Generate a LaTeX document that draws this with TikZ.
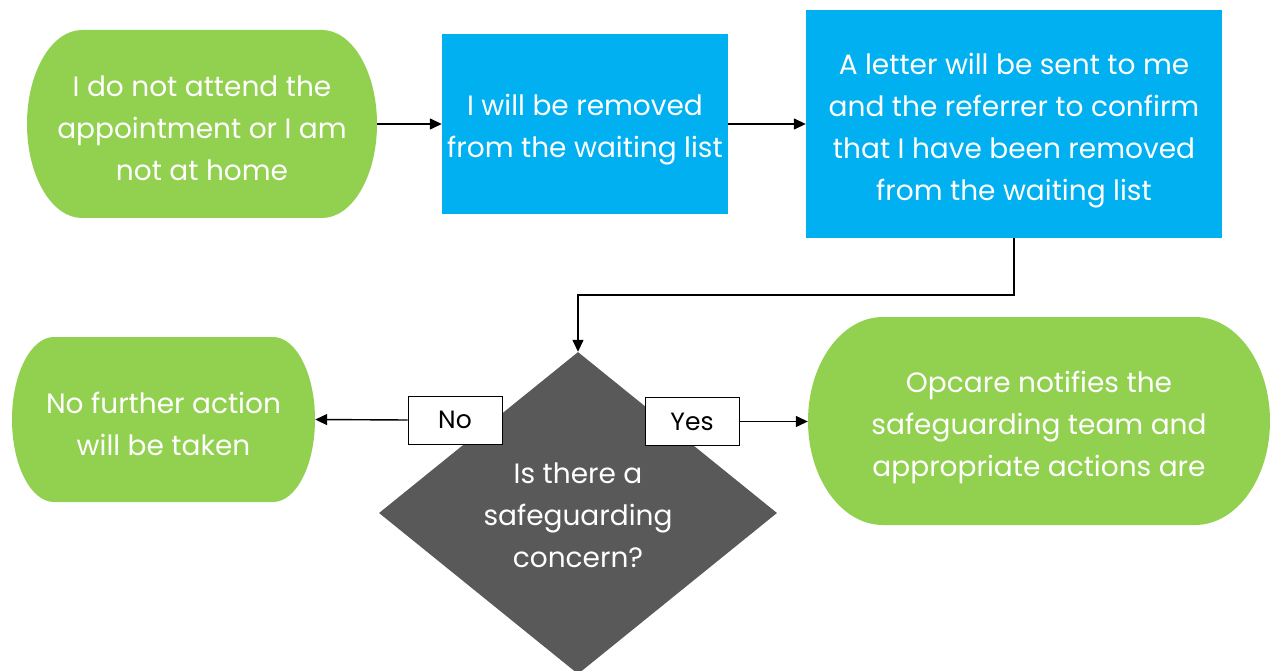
\documentclass[tikz,border=0pt]{standalone}
\usepackage{fontspec}
\setmainfont{Poppins}
\usetikzlibrary{shapes.geometric,arrows.meta}
\definecolor{tgreen}{HTML}{92D050}
\definecolor{tblue}{HTML}{00B0F0}
\definecolor{tgrey}{HTML}{595959}
\tikzset{
  txt/.style={text=white,align=center,font=\fontsize{28}{42}\selectfont,inner sep=0pt},
  bluebox/.style={fill=tblue,draw=none,inner sep=0pt},
  diabox/.style={shape=diamond,fill=tgrey,draw=none,inner sep=0pt,minimum width=398pt,minimum height=322pt},
  lab/.style={draw=black,fill=white,line width=1pt,font=\fontsize{25}{28}\selectfont,inner sep=0pt,minimum width=94pt,minimum height=48pt},
  arr/.style={line width=1.4pt,-{Triangle[length=12pt,width=11pt]}}
}
% name, cx, cy, w, h, rx, ry
\newcommand\termshape[7]{%
  \fill[tgreen] ({#2-#4/2+#6},{#3-#5/2}) -- ({#2+#4/2-#6},{#3-#5/2})
    arc[start angle=90,end angle=-90,x radius=#6pt,y radius=#7pt]
    -- ({#2-#4/2+#6},{#3+#5/2})
    arc[start angle=270,end angle=90,x radius=#6pt,y radius=#7pt] -- cycle;
  \node[inner sep=0pt,minimum width=#4pt,minimum height=#5pt] (#1) at (#2,#3) {};}
\begin{document}
\begin{tikzpicture}[x=1pt,y=-1pt]
\useasboundingbox (0,0) rectangle (1275,671);
\fill[white] (0,0) rectangle (1275,671);
\termshape{start}{202}{124}{350}{188}{55}{94}
\node[txt] (startt) at ([yshift=-4pt]start.center) {I do not attend the\\appointment or I am\\not at home};
\node[bluebox,minimum width=286pt,minimum height=180pt] (rem) at (585,124) {};
\node[txt] (remt) at ([yshift=-6pt]rem.center) {I will be removed\\from the waiting list};
\node[bluebox,minimum width=416pt,minimum height=228pt] (let) at (1014,124) {};
\node[txt] (lett) at ([yshift=-7pt]let.center) {A letter will be sent to me\\and the referrer to confirm\\that I have been removed\\from the waiting list};
\node[diabox] (dia) at (578,513) {};
\node[txt] (diat) at (578,515) {Is there a\\safeguarding\\concern?};
\termshape{nofa}{163.5}{419.5}{303}{165}{42}{82.5}
\node[txt] (nofat) at ([yshift=-4pt]nofa.center) {No further action\\will be taken};
\termshape{opc}{1039}{421}{462}{208}{75}{104}
\node[txt] (opct) at ([yshift=-6pt]opc.center) {Opcare notifies the\\safeguarding team and\\appropriate actions are};
\node[lab] (no) at (455,420) {No};
\node[lab] (yes) at (692,421.5) {Yes};
\coordinate (bend) at (1014,295);
\draw[arr] (start.east) -- (rem.west);
\draw[arr] (rem.east) -- (let.west);
\draw[arr] (let.south) -- (bend) -| (dia.north);
\draw[arr] (no.west) -- (nofa.east);
\draw[arr] (yes.east) -- (yes.east -| opc.west);
\end{tikzpicture}
\end{document}
